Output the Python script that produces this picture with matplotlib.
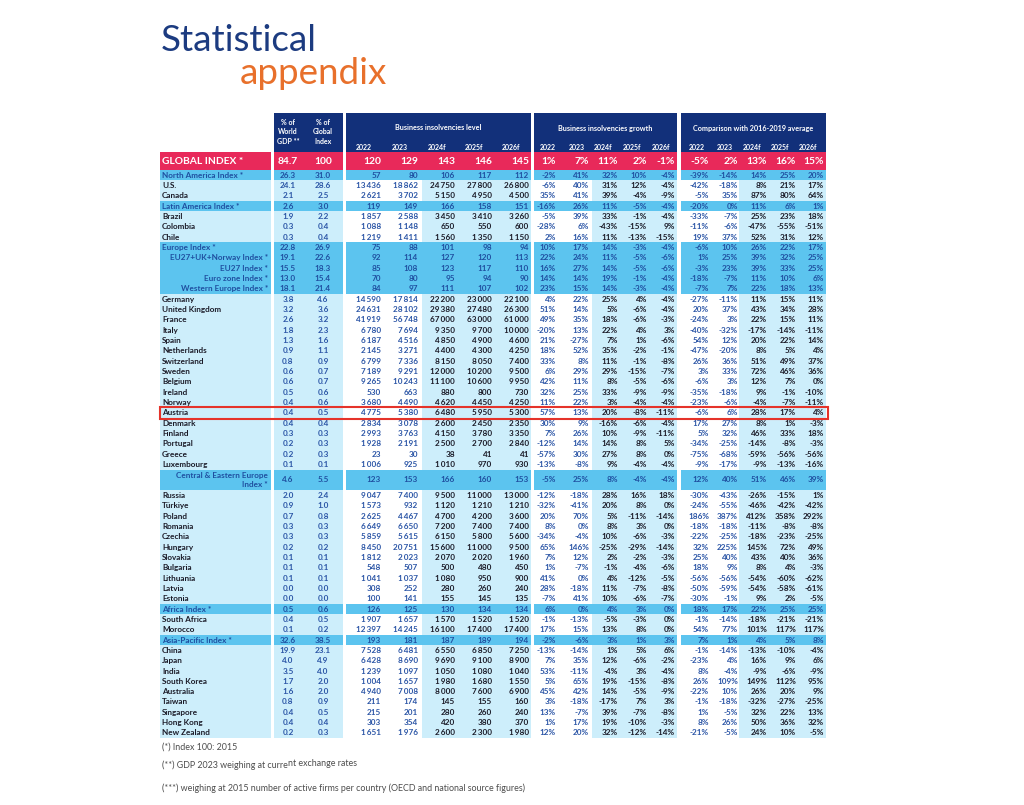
import matplotlib.pyplot as plt
from matplotlib.patches import Rectangle

plt.rcParams['font.family'] = ['Lato', 'DejaVu Sans']

# ---- data -------------------------------------------------------------
years = ['2022', '2023', '2024f', '2025f', '2026f']

global_name = 'GLOBAL INDEX *'
global_gdp = '84.7'
global_share = '100'
global_level = [120, 129, 143, 146, 145]
global_growth = [1, 7, 11, 2, -1]
global_cmp = [-5, 2, 13, 16, 15]

names = [
    'North America Index *', 'U.S.', 'Canada',
    'Latin America Index *', 'Brazil', 'Colombia', 'Chile',
    'Europe Index *', 'EU27+UK+Norway Index *', 'EU27 Index *',
    'Euro zone Index *', 'Western Europe Index *',
    'Germany', 'United Kingdom', 'France', 'Italy', 'Spain', 'Netherlands',
    'Switzerland', 'Sweden', 'Belgium', 'Ireland', 'Norway', 'Austria',
    'Denmark', 'Finland', 'Portugal', 'Greece', 'Luxembourg',
    'Central & Eastern Europe\nIndex *',
    'Russia', 'Türkiye', 'Poland', 'Romania', 'Czechia', 'Hungary',
    'Slovakia', 'Bulgaria', 'Lithuania', 'Latvia', 'Estonia',
    'Africa Index *', 'South Africa', 'Morocco',
    'Asia-Pacific Index *', 'China', 'Japan', 'India', 'South Korea',
    'Australia', 'Taiwan', 'Singapore', 'Hong Kong', 'New Zealand',
]

gdp_share = [
    26.3, 24.1, 2.1,
    2.6, 1.9, 0.3, 0.3,
    22.8, 19.1, 15.5, 13.0, 18.1,
    3.8, 3.2, 2.6, 1.8, 1.3, 0.9, 0.8, 0.6, 0.6, 0.5, 0.4, 0.4,
    0.4, 0.3, 0.2, 0.2, 0.1,
    4.6,
    2.0, 0.9, 0.7, 0.3, 0.3, 0.2, 0.1, 0.1, 0.1, 0.0, 0.0,
    0.5, 0.4, 0.1,
    32.6, 19.9, 4.0, 3.5, 1.7, 1.6, 0.8, 0.4, 0.4, 0.2,
]

index_share = [
    31.0, 28.6, 2.5,
    3.0, 2.2, 0.4, 0.4,
    26.9, 22.6, 18.3, 15.4, 21.4,
    4.6, 3.6, 3.2, 2.3, 1.6, 1.1, 0.9, 0.7, 0.7, 0.6, 0.6, 0.5,
    0.4, 0.3, 0.3, 0.3, 0.1,
    5.5,
    2.4, 1.0, 0.8, 0.3, 0.3, 0.2, 0.1, 0.1, 0.1, 0.0, 0.0,
    0.6, 0.5, 0.2,
    38.5, 23.1, 4.9, 4.0, 2.0, 2.0, 0.9, 0.5, 0.4, 0.3,
]

levels = [
    [57, 80, 106, 117, 112],
    [13436, 18862, 24750, 27800, 26800],
    [2621, 3702, 5150, 4950, 4500],
    [119, 149, 166, 158, 151],
    [1857, 2588, 3450, 3410, 3260],
    [1088, 1148, 650, 550, 600],
    [1219, 1411, 1560, 1350, 1150],
    [75, 88, 101, 98, 94],
    [92, 114, 127, 120, 113],
    [85, 108, 123, 117, 110],
    [70, 80, 95, 94, 90],
    [84, 97, 111, 107, 102],
    [14590, 17814, 22200, 23000, 22100],
    [24631, 28102, 29380, 27480, 26300],
    [41919, 56748, 67000, 63000, 61000],
    [6780, 7694, 9350, 9700, 10000],
    [6187, 4516, 4850, 4900, 4600],
    [2145, 3271, 4400, 4300, 4250],
    [6799, 7336, 8150, 8050, 7400],
    [7189, 9291, 12000, 10200, 9500],
    [9265, 10243, 11100, 10600, 9950],
    [530, 663, 880, 800, 730],
    [3680, 4490, 4620, 4450, 4250],
    [4775, 5380, 6480, 5950, 5300],
    [2834, 3078, 2600, 2450, 2350],
    [2993, 3763, 4150, 3780, 3350],
    [1928, 2191, 2500, 2700, 2840],
    [23, 30, 38, 41, 41],
    [1006, 925, 1010, 970, 930],
    [123, 153, 166, 160, 153],
    [9047, 7400, 9500, 11000, 13000],
    [1573, 932, 1120, 1210, 1210],
    [2625, 4467, 4700, 4200, 3600],
    [6649, 6650, 7200, 7400, 7400],
    [5859, 5615, 6150, 5800, 5600],
    [8450, 20751, 15600, 11000, 9500],
    [1812, 2023, 2070, 2020, 1960],
    [548, 507, 500, 480, 450],
    [1041, 1037, 1080, 950, 900],
    [308, 252, 280, 260, 240],
    [100, 141, 155, 145, 135],
    [126, 125, 130, 134, 134],
    [1907, 1657, 1570, 1520, 1520],
    [12397, 14245, 16100, 17400, 17400],
    [193, 181, 187, 189, 194],
    [7528, 6481, 6550, 6850, 7250],
    [6428, 8690, 9690, 9100, 8900],
    [1239, 1097, 1050, 1080, 1040],
    [1004, 1657, 1980, 1680, 1550],
    [4940, 7008, 8000, 7600, 6900],
    [211, 174, 145, 155, 160],
    [215, 201, 280, 260, 240],
    [303, 354, 420, 380, 370],
    [1651, 1976, 2600, 2300, 1980],
]

growth = [
    [-2, 41, 32, 10, -4],
    [-6, 40, 31, 12, -4],
    [35, 41, 39, -4, -9],
    [-16, 26, 11, -5, -4],
    [-5, 39, 33, -1, -4],
    [-28, 6, -43, -15, 9],
    [2, 16, 11, -13, -15],
    [10, 17, 14, -3, -4],
    [22, 24, 11, -5, -6],
    [16, 27, 14, -5, -6],
    [14, 14, 19, -1, -4],
    [23, 15, 14, -3, -4],
    [4, 22, 25, 4, -4],
    [51, 14, 5, -6, -4],
    [49, 35, 18, -6, -3],
    [-20, 13, 22, 4, 3],
    [21, -27, 7, 1, -6],
    [18, 52, 35, -2, -1],
    [33, 8, 11, -1, -8],
    [6, 29, 29, -15, -7],
    [42, 11, 8, -5, -6],
    [32, 25, 33, -9, -9],
    [11, 22, 3, -4, -4],
    [57, 13, 20, -8, -11],
    [30, 9, -16, -6, -4],
    [7, 26, 10, -9, -11],
    [-12, 14, 14, 8, 5],
    [-57, 30, 27, 8, 0],
    [-13, -8, 9, -4, -4],
    [-5, 25, 8, -4, -4],
    [-12, -18, 28, 16, 18],
    [-32, -41, 20, 8, 0],
    [20, 70, 5, -11, -14],
    [8, 0, 8, 3, 0],
    [-34, -4, 10, -6, -3],
    [65, 146, -25, -29, -14],
    [7, 12, 2, -2, -3],
    [1, -7, -1, -4, -6],
    [41, 0, 4, -12, -5],
    [28, -18, 11, -7, -8],
    [-7, 41, 10, -6, -7],
    [6, 0, 4, 3, 0],
    [-1, -13, -5, -3, 0],
    [17, 15, 13, 8, 0],
    [-2, -6, 3, 1, 3],
    [-13, -14, 1, 5, 6],
    [7, 35, 12, -6, -2],
    [53, -11, -4, 3, -4],
    [5, 65, 19, -15, -8],
    [45, 42, 14, -5, -9],
    [3, -18, -17, 7, 3],
    [13, -7, 39, -7, -8],
    [1, 17, 19, -10, -3],
    [12, 20, 32, -12, -14],
]

vs_2016_2019 = [
    [-39, -14, 14, 25, 20],
    [-42, -18, 8, 21, 17],
    [-5, 35, 87, 80, 64],
    [-20, 0, 11, 6, 1],
    [-33, -7, 25, 23, 18],
    [-11, -6, -47, -55, -51],
    [19, 37, 52, 31, 12],
    [-6, 10, 26, 22, 17],
    [1, 25, 39, 32, 25],
    [-3, 23, 39, 33, 25],
    [-18, -7, 11, 10, 6],
    [-7, 7, 22, 18, 13],
    [-27, -11, 11, 15, 11],
    [20, 37, 43, 34, 28],
    [-24, 3, 22, 15, 11],
    [-40, -32, -17, -14, -11],
    [54, 12, 20, 22, 14],
    [-47, -20, 8, 5, 4],
    [26, 36, 51, 49, 37],
    [3, 33, 72, 46, 36],
    [-6, 3, 12, 7, 0],
    [-35, -18, 9, -1, -10],
    [-23, -6, -4, -7, -11],
    [-6, 6, 28, 17, 4],
    [17, 27, 8, 1, -3],
    [5, 32, 46, 33, 18],
    [-34, -25, -14, -8, -3],
    [-75, -68, -59, -56, -56],
    [-9, -17, -9, -13, -16],
    [12, 40, 51, 46, 39],
    [-30, -43, -26, -15, 1],
    [-24, -55, -46, -42, -42],
    [186, 387, 412, 358, 292],
    [-18, -18, -11, -8, -8],
    [-22, -25, -18, -23, -25],
    [32, 225, 145, 72, 49],
    [25, 40, 43, 40, 36],
    [18, 9, 8, 4, -3],
    [-56, -56, -54, -60, -62],
    [-50, -59, -54, -58, -61],
    [-30, -1, 9, 2, -5],
    [18, 17, 22, 25, 25],
    [-1, -14, -18, -21, -21],
    [54, 77, 101, 117, 117],
    [7, 1, 4, 5, 8],
    [-1, -14, -13, -10, -4],
    [-23, 4, 16, 9, 6],
    [8, -4, -9, -6, -9],
    [26, 109, 149, 112, 95],
    [-22, 10, 26, 20, 9],
    [-1, -18, -32, -27, -25],
    [1, -5, 32, 22, 13],
    [8, 26, 50, 36, 32],
    [-21, -5, 24, 10, -5],
]

sub_indices = ['EU27+UK+Norway Index *', 'EU27 Index *', 'Euro zone Index *',
               'Western Europe Index *', 'Central & Eastern Europe\nIndex *']
highlight = 'Austria'

footnotes = [
    '(*) Index 100: 2015',
    '(**) GDP 2023 weighing at curre',
    '(***) weighing at 2015 number of active firms per country (OECD and national source figures)',
]

# ---- style ------------------------------------------------------------
NAVY = '#12307a'
PINK = '#e8295a'
MID = '#5cc4ef'
LIGHT = '#cdeefb'
BLUE_TXT = '#2b55a6'
IDX_TXT = '#1f4fa0'
DARK_TXT = '#1b1b28'

FS = 5.9
ROW_H = 10.33
ROW0 = 170

name_col = (160, 271)
gdp_blk = (274, 343)
blocks = [(346, 531), (534, 677), (681, 826)]
fc_start = [422, 592, 739]
gdp_x = [288, 323]
val_right = [[381, 418, 455, 492, 529],
             [556, 589, 618, 647, 675],
             [709, 738, 767, 796, 824]]
year_x = [[364, 400, 437, 474, 511],
          [548, 577, 603, 632, 661],
          [697, 725, 752, 780, 808]]
block_titles = ['Business insolvencies level', 'Business insolvencies growth',
                'Comparison with 2016-2019 average']


def fmt_level(v):
    return f'{v:,}'.replace(',', '\u2009')


def fmt_pct(v):
    return f'{v}%'


def box(ax, x0, x1, y0, h, color):
    ax.add_patch(Rectangle((x0, y0), x1 - x0, h, facecolor=color,
                           edgecolor='none', zorder=1))


fig = plt.figure(figsize=(10.24, 8.05), dpi=100)
ax = fig.add_axes([0, 0, 1, 1])
ax.set_xlim(0, 1024)
ax.set_ylim(805, 0)
ax.axis('off')

# title
ax.text(161, 51, 'Statistical', fontsize=26.5, color='#1c3b80', va='baseline')
ax.text(240, 84, 'appendix', fontsize=26.5, color='#e8702b', va='baseline')

# header
for x0, x1 in [gdp_blk] + blocks:
    box(ax, x0, x1, 113, 39, NAVY)
ax.text(gdp_x[0], 132, '% of\nWorld\nGDP **', ha='center', va='center',
        color='white', fontsize=5, fontweight='bold', linespacing=1.35)
ax.text(gdp_x[1], 132, '% of\nGlobal\nIndex', ha='center', va='center',
        color='white', fontsize=5, fontweight='bold', linespacing=1.35)
for b, (x0, x1) in enumerate(blocks):
    ax.text((x0 + x1) / 2, 128, block_titles[b], ha='center', va='center',
            color='white', fontsize=5.2, fontweight='bold')
    for j, yr in enumerate(years):
        ax.text(year_x[b][j], 147, yr, ha='center', va='center',
                color='white', fontsize=5, fontweight='bold')

# global row
for x0, x1 in [name_col, gdp_blk] + blocks:
    box(ax, x0, x1, 152, ROW0 - 152, PINK)
gy = (152 + ROW0) / 2
gkw = dict(color='white', fontsize=7.4, fontweight='bold', va='center')
ax.text(162, gy, global_name, ha='left', **gkw)
ax.text(gdp_x[0], gy, global_gdp, ha='center', **gkw)
ax.text(gdp_x[1], gy, global_share, ha='center', **gkw)
for b, vals in enumerate([global_level, global_growth, global_cmp]):
    for j, v in enumerate(vals):
        s = fmt_level(v) if b == 0 else fmt_pct(v)
        ax.text(val_right[b][j], gy, s, ha='right', **gkw)

# body rows
slot = 0
for i, name in enumerate(names):
    n_slots = 2 if '\n' in name else 1
    top = ROW0 + slot * ROW_H
    h = n_slots * ROW_H
    yc = top + h / 2
    is_index = 'Index' in name
    if is_index:
        for x0, x1 in [name_col, gdp_blk] + blocks:
            box(ax, x0, x1, top, h, MID)
        name_c = hist_c = fc_c = IDX_TXT
    else:
        box(ax, name_col[0], name_col[1], top, h, LIGHT)
        box(ax, gdp_blk[0], gdp_blk[1], top, h, LIGHT)
        for b, (x0, x1) in enumerate(blocks):
            box(ax, fc_start[b], x1, top, h, LIGHT)
        name_c, hist_c, fc_c = DARK_TXT, BLUE_TXT, DARK_TXT

    kw = dict(fontsize=FS, fontweight='bold', va='center', zorder=3)
    if name in sub_indices:
        ax.text(268, yc, name, ha='right', multialignment='right',
                color=name_c, linespacing=1.3, **kw)
    else:
        ax.text(162, yc, name, ha='left', color=name_c, **kw)

    ax.text(gdp_x[0], yc, f'{gdp_share[i]:.1f}', ha='center', color=hist_c, **kw)
    ax.text(gdp_x[1], yc, f'{index_share[i]:.1f}', ha='center', color=hist_c, **kw)

    for b, vals in enumerate([levels[i], growth[i], vs_2016_2019[i]]):
        for j, v in enumerate(vals):
            s = fmt_level(v) if b == 0 else fmt_pct(v)
            ax.text(val_right[b][j], yc, s, ha='right',
                    color=hist_c if j < 2 else fc_c, **kw)

    if name == highlight:
        ax.add_patch(Rectangle((159.5, top - 0.5), 828 - 159.5, h + 1.5,
                               facecolor='none', edgecolor='#e5332a',
                               linewidth=1.5, zorder=4))
    slot += n_slots

# footnotes
fkw = dict(fontsize=6.4, color='#4d4d4d', va='center', ha='left')
ax.text(162, 747, footnotes[0], **fkw)
t2 = ax.text(162, 765, footnotes[1], **fkw)
ax.annotate('nt exchange rates', xy=(1, 0), xycoords=t2,
            xytext=(0, 1.5), textcoords='offset points',
            ha='left', va='bottom', fontsize=6.4, color='#4d4d4d')
ax.text(162, 788, footnotes[2], **fkw)

fig.savefig('out.png', dpi=100)
